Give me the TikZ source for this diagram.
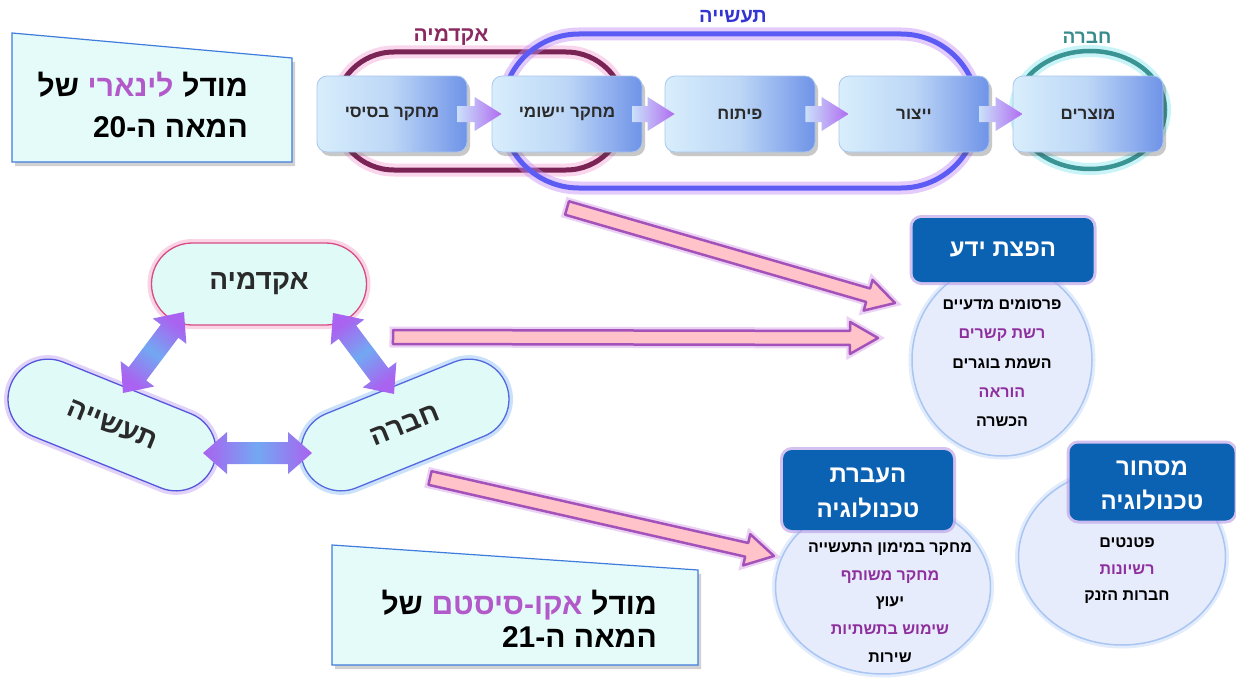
\documentclass[tikz,border=0pt]{standalone}
\usepackage{fontspec}
\usetikzlibrary{calc,shapes.geometric,shapes.misc,shadows}
\newfontfamily\heb[Script=Hebrew]{Liberation Sans}
\TeXXeTstate=1
\newcommand\RL[1]{\beginR#1\endR}
\definecolor{txt}{HTML}{2A2A2A}
\definecolor{tbfill}{HTML}{E4FBFA}
\definecolor{tbline}{HTML}{3F7CDB}
\definecolor{lin}{HTML}{B35ACB}
\definecolor{ipur}{HTML}{8E2F9E}
\definecolor{cbL}{HTML}{D8EEFC}
\definecolor{cbM}{HTML}{BCD6F6}
\definecolor{cbR}{HTML}{6F93E8}
\definecolor{cbB}{HTML}{A9C6EE}
\definecolor{arL}{HTML}{C9E0FA}
\definecolor{arR}{HTML}{B06CF0}
\definecolor{grpMaroon}{HTML}{7A2355}
\definecolor{maroonglow}{HTML}{F5A6D6}
\definecolor{grpBlue}{HTML}{5C5CF4}
\definecolor{indglow}{HTML}{C190F8}
\definecolor{grpTeal}{HTML}{3A9494}
\definecolor{tealglow}{HTML}{86E6EE}
\definecolor{lblA}{HTML}{8A2A60}
\definecolor{lblI}{HTML}{3434D2}
\definecolor{lblS}{HTML}{3A8C8C}
\definecolor{tfill}{HTML}{E0FBF7}
\definecolor{akline}{HTML}{D84C86}
\definecolor{akglow}{HTML}{F7A9CB}
\definecolor{inline}{HTML}{5656DC}
\definecolor{inglow}{HTML}{C4A6F6}
\definecolor{soline}{HTML}{5468E0}
\definecolor{soglow}{HTML}{96C4F8}
\definecolor{dbl}{HTML}{72A8F2}
\definecolor{dpur}{HTML}{AA62F0}
\definecolor{pinkf}{HTML}{FFC3C9}
\definecolor{pinkl}{HTML}{A452BA}
\definecolor{pinkglow}{HTML}{D9A6EA}
\definecolor{hdrblue}{HTML}{0B62B2}
\definecolor{hglow}{HTML}{B79AE6}
\definecolor{efill}{HTML}{E7ECFC}
\definecolor{eline}{HTML}{A9C6F2}
\definecolor{eglow}{HTML}{CFE0FA}
\newcommand\chainarrow[2]{%
  \shade[chainarr] ($(#1.east)+(-10,-8)$) -- ($(#2.west)+(-17,-8)$) -- ($(#2.west)+(-17,-17)$) -- ($(#2.west)+(10,0)$) -- ($(#2.west)+(-17,17)$) -- ($(#2.west)+(-17,8)$) -- ($(#1.east)+(-10,8)$) -- cycle;}
\newcommand\dblarrow[3]{%
  \shade[#1] (#2) -- ($(#2)!24pt!(#3)!21pt!90:(#3)$) -- ($(#2)!24pt!(#3)!11pt!90:(#3)$) -- ($(#3)!24pt!(#2)!11pt!-90:(#2)$) -- ($(#3)!24pt!(#2)!21pt!-90:(#2)$) -- (#3) -- ($(#3)!24pt!(#2)!21pt!90:(#2)$) -- ($(#3)!24pt!(#2)!11pt!90:(#2)$) -- ($(#2)!24pt!(#3)!11pt!-90:(#3)$) -- ($(#2)!24pt!(#3)!21pt!-90:(#3)$) -- cycle;}
\newcommand\pinkarrow[2]{%
  \filldraw[pinkarr] ($(#1)!7pt!90:(#2)$) -- ($(#2)!28pt!(#1)!7pt!-90:(#1)$) -- ($(#2)!28pt!(#1)!16pt!-90:(#1)$) -- (#2) -- ($(#2)!28pt!(#1)!16pt!90:(#1)$) -- ($(#2)!28pt!(#1)!7pt!90:(#1)$) -- ($(#1)!7pt!-90:(#2)$) -- cycle;}
\begin{document}
\begin{tikzpicture}[x=1pt,y=-1pt,
  hebf/.style={font=\heb\bfseries\fontsize{#1}{#1}\selectfont},
  titlebox/.style={fill=tbfill, draw=tbline, line width=1.2pt},
  titleshadow/.style={fill=black, opacity=.18},
  titletext/.style={hebf=30, text=black, anchor=east, inner sep=0pt},
  titleword/.style={hebf=30, text=#1, anchor=base east, inner sep=0pt},
  grp/.style={rounded rectangle, draw=#1, line width=5pt, inner sep=0pt},
  grpglow/.style={preaction={draw=#1, line width=13pt, opacity=.45}},
  grplabel/.style={hebf=19, text=#1, inner sep=0pt},
  chainbox/.style={rounded corners=10pt, minimum width=150pt, minimum height=76pt, draw=cbB, line width=0.8pt, left color=cbL, right color=cbR, middle color=cbM, drop shadow={shadow xshift=3pt, shadow yshift=-4pt, opacity=.3, fill=black!70}, text=txt, hebf=17},
  chainarr/.style={left color=arL, right color=arR},
  tri/.style={rounded rectangle, fill=tfill, draw=#1, line width=1.3pt, minimum width=218pt, minimum height=80pt, inner sep=0pt, hebf=28, text=txt},
  triglow/.style={preaction={draw=#1, line width=8pt, opacity=.5}},
  dblarr/.style={top color=dpur, bottom color=dpur, middle color=dbl, shading angle=#1},
  pinkarr/.style={fill=pinkf, draw=pinkl, line width=2.5pt, line join=round, preaction={draw=pinkglow, line width=7pt, opacity=.5}},
  hdr/.style={fill=hdrblue, rounded corners=9pt, inner sep=0pt, preaction={draw=hglow, line width=6pt, opacity=.6}},
  hdrtext/.style={hebf=24, text=white, inner sep=0pt},
  ell/.style={ellipse, fill=efill, draw=eline, line width=1.5pt, inner sep=0pt, preaction={draw=eglow, line width=7pt, opacity=.6}},
  item/.style={hebf=16, text=#1, inner sep=0pt},
]
\useasboundingbox (0,0) rectangle (1236,677);
\fill[white] (0,0) rectangle (1236,677);

% title box 20th century
\fill[titleshadow] (15,37) -- (295,62) -- (295,166) -- (15,166) -- cycle;
\draw[titlebox] (12,33) -- (292,58) -- (292,162) -- (12,162) -- cycle;
\node[titleword=black] (t1a) at (248,96) {\RL{מודל}};
\node[titleword=lin] (t1b) at ([xshift=-8.3pt]t1a.base west) {\RL{לינארי}};
\node[titleword=black] (t1c) at ([xshift=-8.3pt]t1b.base west) {\RL{של}};
\node[titletext] (t1d) at (248,127) {\RL{המאה ה\kern0pt-\kern0pt\beginL20\endL}};

% groups
\node[grp=grpMaroon, grpglow=maroonglow, minimum width=290pt, minimum height=118pt] (gA) at (480,111) {};
\node[grp=grpBlue, grpglow=indglow, minimum width=476pt, minimum height=154pt] (gI) at (740,111) {};
\node[ellipse, draw=grpTeal, line width=4.5pt, preaction={draw=tealglow, line width=12pt, opacity=.45}, minimum width=150pt, minimum height=118pt, inner sep=0pt] (gS) at (1090,110) {};
\node[grplabel=lblA, hebf=21] (lA) at (451,37) {\RL{אקדמיה}};
\node[grplabel=lblI, hebf=20] (lI) at (733,17) {\RL{תעשייה}};
\node[grplabel=lblS] (lS) at (1087,38) {\RL{חברה}};

% chain
\node[chainbox] (c1) at (392,114) {\RL{מחקר בסיסי}};
\node[chainbox] (c2) at (567,114) {\RL{מחקר יישומי}};
\node[chainbox] (c3) at (740,114) {\RL{פיתוח}};
\node[chainbox] (c4) at (914,114) {\RL{ייצור}};
\node[chainbox] (c5) at (1088,114) {\RL{מוצרים}};
\chainarrow{c1}{c2}
\chainarrow{c2}{c3}
\chainarrow{c3}{c4}
\chainarrow{c4}{c5}

% triangle
\node[tri=akline, triglow=akglow, minimum width=215pt, minimum height=82pt] (tA) at (259,284) {\RL{אקדמיה}};
\node[tri=inline, triglow=inglow, rotate=-22] (tI) at (112,425) {\RL{תעשייה}};
\node[tri=soline, triglow=soglow, rotate=22] (tS) at (405,425) {\RL{חברה}};
\coordinate (dAIa) at (184,312); \coordinate (dAIb) at (123,393);
\coordinate (dASa) at (333,313); \coordinate (dASb) at (394,394);
\coordinate (dISa) at (203,453); \coordinate (dISb) at (312,453);
\dblarrow{dblarr=-36.5}{dAIa}{dAIb}
\dblarrow{dblarr=37}{dASa}{dASb}
\dblarrow{dblarr=90}{dISa}{dISb}

% pink arrows
\coordinate (p1a) at (567,208); \coordinate (p1b) at (895,303);
\coordinate (p2a) at (393,337); \coordinate (p2b) at (878,338);
\coordinate (p3a) at (430,478); \coordinate (p3b) at (774,556);
\pinkarrow{p1a}{p1b}
\pinkarrow{p2a}{p2b}
\pinkarrow{p3a}{p3b}

% knowledge circles
\node[ell, minimum width=180pt, minimum height=192pt] (eK) at (1002,360) {};
\node[ell, minimum width=215pt, minimum height=174pt] (eT) at (883,587) {};
\node[ell, minimum width=207pt, minimum height=176pt] (eM) at (1122,557) {};
\node[hdr, minimum width=181pt, minimum height=64pt] (hK) at (1003,250) {};
\node[hdr, minimum width=170pt, minimum height=80pt] (hT) at (868,490) {};
\node[hdr, minimum width=165pt, minimum height=77pt] (hM) at (1152,482) {};
\node[hdrtext] (hKa) at (1003,250) {\RL{הפצת ידע}};
\node[hdrtext] (hTa) at (868,475) {\RL{העברת}};
\node[hdrtext] (hTb) at (868,508) {\RL{טכנולוגיה}};
\node[hdrtext] (hMa) at (1152,468) {\RL{מסחור}};
\node[hdrtext] (hMb) at (1152,500) {\RL{טכנולוגיה}};

\node[item=black] (k1) at (1002,305) {\RL{פרסומים מדעיים}};
\node[item=ipur] (k2) at (1002,335) {\RL{רשת קשרים}};
\node[item=black] (k3) at (1002,364) {\RL{השמת בוגרים}};
\node[item=ipur] (k4) at (1002,393) {\RL{הוראה}};
\node[item=black] (k5) at (1002,422) {\RL{הכשרה}};

\node[item=black] (r1) at (890,549) {\RL{מחקר במימון התעשייה}};
\node[item=ipur] (r2) at (890,577) {\RL{מחקר משותף}};
\node[item=black] (r3) at (890,603) {\RL{יעוץ}};
\node[item=ipur] (r4) at (890,630) {\RL{שימוש בתשתיות}};
\node[item=black] (r5) at (890,658) {\RL{שירות}};

\node[item=black] (m1) at (1127,543) {\RL{פטנטים}};
\node[item=ipur] (m2) at (1127,570) {\RL{רשיונות}};
\node[item=black] (m3) at (1127,597) {\RL{חברות הזנק}};

% title box 21st century
\fill[titleshadow] (335,549) -- (701,574) -- (701,669) -- (335,669) -- cycle;
\draw[titlebox] (332,545) -- (698,570) -- (698,665) -- (332,665) -- cycle;
\node[titleword=black] (t2a) at (657,614) {\RL{מודל}};
\node[titleword=lin] (t2b) at ([xshift=-8.3pt]t2a.base west) {\RL{אקו\kern0pt-\kern0pt סיסטם}};
\node[titleword=black] (t2c) at ([xshift=-8.3pt]t2b.base west) {\RL{של}};
\node[titletext] (t2d) at (657,637) {\RL{המאה ה\kern0pt-\kern0pt\beginL21\endL}};
\end{tikzpicture}
\end{document}
